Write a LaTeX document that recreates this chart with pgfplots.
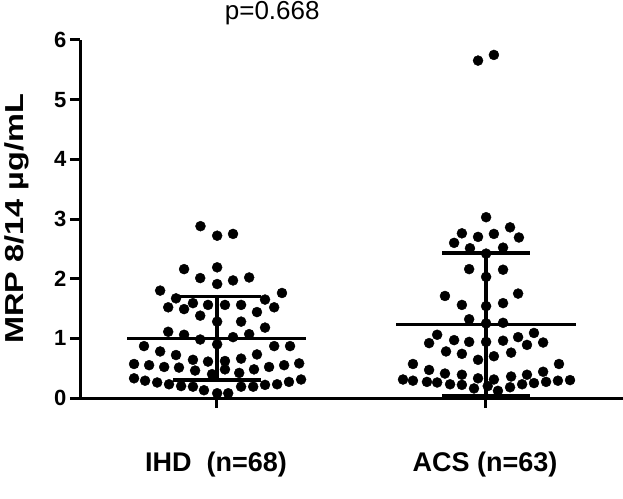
\documentclass[border=0pt]{standalone}
\usepackage{pgfplots}
\pgfplotsset{compat=1.18}
\usepackage{fontspec}
\setmainfont{Liberation Sans}
\newfontfamily\ylabfont[FakeStretch=1.25]{Liberation Sans}
\begin{document}
\begin{tikzpicture}
\useasboundingbox (0,0) rectangle (623pt,498pt);
\begin{axis}[
  at={(80pt,100pt)}, anchor=south west,
  scale only axis, width=543pt, height=358pt,
  xmin=0.494, xmax=2.513, ymin=0, ymax=6,
  clip=false,
  axis lines=left,
  axis line style={line width=3pt, -},
  tick style={line width=3pt, black},
  major tick length=10pt,
  tick align=outside,
  xtick={1,2},
  xticklabels={IHD\ \ (n=68), ACS (n=63)},
  ytick={0,1,2,3,4,5,6},
  /pgf/number format/assume math mode=true,
  yticklabel style={font=\fontsize{22}{26}\selectfont\bfseries},
  xticklabel style={font=\fontsize{27}{32}\selectfont\bfseries, yshift=-40pt},
  every axis y label/.style={at={(axis description cs:-0.116,0.5)}, rotate=90, anchor=center},
  ylabel={\ylabfont\fontsize{26}{30}\selectfont\bfseries MRP 8/14 \textmu g/mL},
]
% IHD dots
\addplot[only marks, mark=*, mark size=5pt, black] coordinates {
(0.942,2.88) (1.004,2.72) (1.063,2.75) (0.881,2.16) (1.004,2.19) (0.941,2.01)
(1.063,1.97) (1.123,2.02) (1.004,1.91) (0.792,1.80) (1.245,1.76) (0.851,1.67)
(1.182,1.65) (0.822,1.52) (0.914,1.59) (0.970,1.56) (1.033,1.56) (1.093,1.56)
(1.216,1.52) (0.881,1.49) (1.152,1.44) (0.941,1.38) (1.004,1.28) (1.093,1.28)
(1.182,1.18) (0.822,1.11) (0.881,1.06) (1.123,1.07) (0.941,0.98) (1.063,1.02)
(1.004,0.90) (0.732,0.87) (1.216,0.87) (1.275,0.87) (0.792,0.78) (1.152,0.73)
(0.851,0.72) (0.914,0.64) (0.970,0.61) (1.033,0.62) (1.093,0.66) (0.695,0.57)
(0.751,0.55) (0.807,0.52) (0.862,0.51) (0.922,0.46) (0.985,0.40) (1.033,0.48)
(1.086,0.42) (1.141,0.48) (1.197,0.52) (1.253,0.55) (1.309,0.58) (0.695,0.33)
(0.736,0.29) (0.781,0.26) (0.825,0.23) (0.870,0.20) (0.914,0.19) (0.955,0.13)
(1.004,0.08) (1.045,0.08) (1.093,0.19) (1.138,0.19) (1.182,0.22) (1.227,0.23)
(1.271,0.27) (1.316,0.31)
};
% ACS dots
\addplot[only marks, mark=*, mark size=5pt, black] coordinates {
(2.004,3.03) (2.093,2.86) (1.914,2.76) (1.974,2.70) (2.033,2.75) (2.126,2.69)
(1.885,2.60) (1.944,2.51) (2.067,2.52) (2.004,2.42) (1.941,2.16) (2.067,2.15)
(2.004,2.03) (1.851,1.71) (2.123,1.75) (1.914,1.56) (2.067,1.59) (2.004,1.54)
(1.941,1.32) (2.004,1.25) (2.067,1.26) (1.822,1.06) (2.182,1.09) (1.792,0.92)
(1.885,0.97) (1.941,0.94) (2.004,0.94) (2.067,0.96) (2.123,1.02) (2.156,0.89)
(2.216,0.93) (1.855,0.78) (1.914,0.74) (1.974,0.64) (2.033,0.70) (2.097,0.76)
(1.732,0.57) (2.275,0.57) (1.792,0.47) (2.216,0.44) (1.851,0.41) (1.914,0.39)
(1.974,0.33) (2.033,0.31) (2.097,0.36) (2.156,0.39) (1.695,0.31) (1.732,0.29)
(1.784,0.27) (1.822,0.26) (1.870,0.23) (1.914,0.22) (1.959,0.16) (2.048,0.12)
(2.093,0.18) (2.138,0.23) (2.182,0.25) (2.227,0.27) (2.271,0.29) (2.316,0.30)
(1.974,5.655) (2.033,5.75) (2.010,0.20)
};
% IHD mean and SD
\addplot[black, line width=3.5pt] coordinates {(0.669,1.00) (1.335,1.00)};
\addplot[black, line width=3.5pt] coordinates {(1.004,0.30) (1.004,1.70)};
\addplot[black, line width=3.5pt] coordinates {(0.840,1.70) (1.168,1.70)};
\addplot[black, line width=3.5pt] coordinates {(0.840,0.30) (1.168,0.30)};
% ACS mean and SD
\addplot[black, line width=3.5pt] coordinates {(1.669,1.235) (2.338,1.235)};
\addplot[black, line width=3.5pt] coordinates {(2.004,0.04) (2.004,2.43)};
\addplot[black, line width=3.5pt] coordinates {(1.840,2.43) (2.168,2.43)};
\addplot[black, line width=3.5pt] coordinates {(1.840,0.04) (2.168,0.04)};
\node[font=\fontsize{26}{30}\selectfont] at (axis description cs:0.354,1.075) {p=0.668};
\end{axis}
\end{tikzpicture}
\end{document}
